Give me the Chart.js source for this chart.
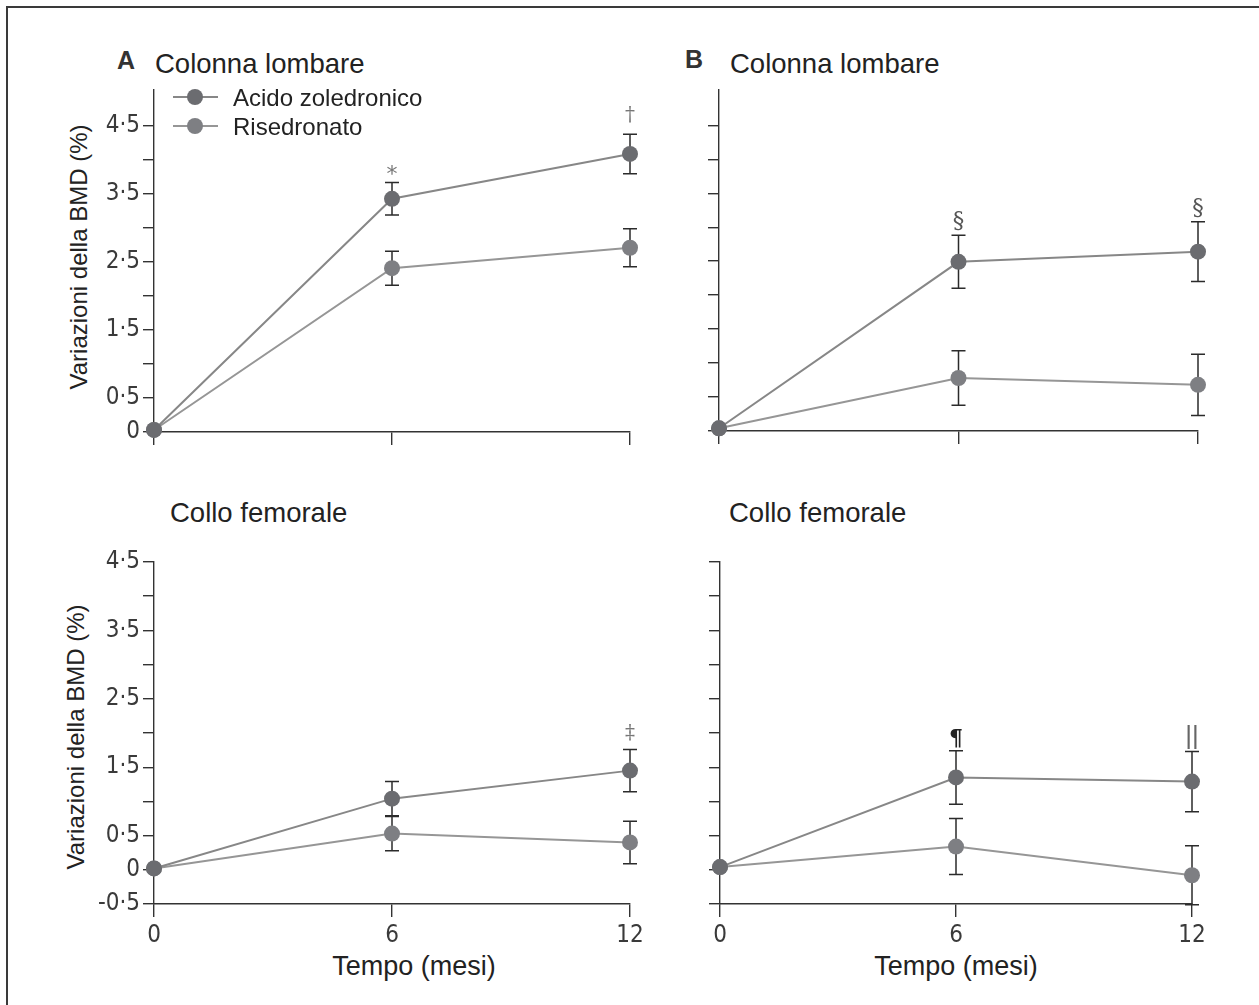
<!DOCTYPE html>
<html>
<head>
<meta charset="utf-8">
<script src="https://cdn.jsdelivr.net/npm/chart.js"></script>
<style>
  html, body { margin: 0; padding: 0; background: #fff; width: 1259px; height: 1005px; overflow: hidden; }
  body { position: relative; font-family: "Liberation Sans", Arial, sans-serif; color: #222; }
  #cornice { position: absolute; left: 6px; top: 6px; width: 1280px; height: 1020px; border: 2px solid #3a3a3a; box-sizing: border-box; }
  canvas { position: absolute; }
  .testo { position: absolute; white-space: nowrap; line-height: 1; }
  .titolo { font-size: 27.5px; }
  .lettera { font-size: 25px; font-weight: bold; color: #333; }
  .asse-y { font-size: 24px; transform: translate(-50%, -50%) rotate(-90deg); }
  .asse-x { font-size: 27px; transform: translateX(-50%); }
</style>
</head>
<body>
<div id="cornice"></div>

<div class="testo lettera" style="left:117px; top:48px;">A</div>
<div class="testo titolo" style="left:155px; top:50px;">Colonna lombare</div>
<div class="testo lettera" style="left:685px; top:47px;">B</div>
<div class="testo titolo" style="left:730px; top:50px;">Colonna lombare</div>
<div class="testo titolo" style="left:170px; top:499px;">Collo femorale</div>
<div class="testo titolo" style="left:729px; top:499px;">Collo femorale</div>

<div class="testo asse-y" style="left:79px; top:257px;">Variazioni della BMD (%)</div>
<div class="testo asse-y" style="left:76px; top:737px;">Variazioni della BMD (%)</div>
<div class="testo asse-x" style="left:414px; top:953px;">Tempo (mesi)</div>
<div class="testo asse-x" style="left:956px; top:953px;">Tempo (mesi)</div>

<canvas id="graficoA" width="590" height="380" style="left:60px; top:80px;"></canvas>
<canvas id="graficoB" width="590" height="380" style="left:625px; top:80px;"></canvas>
<canvas id="graficoC" width="590" height="420" style="left:60px; top:540px;"></canvas>
<canvas id="graficoD" width="590" height="420" style="left:626px; top:540px;"></canvas>

<script>
// dati
const mesi = [0, 6, 12];
const serie = ['Acido zoledronico', 'Risedronato'];
const yTickValori = [-0.5, 0, 0.5, 1, 1.5, 2, 2.5, 3, 3.5, 4, 4.5];
const yTickEtichette = ['-0·5', '0', '0·5', '', '1·5', '', '2·5', '', '3·5', '', '4·5'];
const xTickEtichette = ['0', '6', '12'];

// A - colonna lombare
const zolA = [0.03, 3.43, 4.09];
const errZolA = [0, 0.24, 0.29];
const risA = [0.03, 2.41, 2.71];
const errRisA = [0, 0.25, 0.28];
const segniA = ['', '*', '†'];

// B - colonna lombare
const zolB = [0.04, 2.49, 2.64];
const errZolB = [0, 0.39, 0.44];
const risB = [0.04, 0.78, 0.68];
const errRisB = [0, 0.40, 0.45];
const segniB = ['', '§', '§'];

// A - collo femorale
const zolC = [0.02, 1.04, 1.45];
const errZolC = [0, 0.25, 0.31];
const risC = [0.02, 0.53, 0.40];
const errRisC = [0, 0.25, 0.31];
const segniC = ['', '', '‡'];

// B - collo femorale
const zolD = [0.04, 1.35, 1.29];
const errZolD = [0, 0.39, 0.44];
const risD = [0.04, 0.34, -0.08];
const errRisD = [0, 0.41, 0.43];
const segniD = ['', '¶', '||'];

const stileSegni = {
    '*': { font: '22px "DejaVu Sans"', colore: '#777', gap: 1 },
    '†': { font: '20px "DejaVu Serif"', colore: '#777', gap: 13 },
    '§': { font: '23px "DejaVu Serif"', colore: '#555', gap: 8 },
    '‡': { font: '20px "DejaVu Serif"', colore: '#777', gap: 10 },
    '¶': { font: 'bold 22px "DejaVu Serif"', colore: '#222', gap: 6 },
    '||': { font: '26px "Liberation Sans Narrow", "Liberation Sans"', colore: '#666', gap: 7 },
};

const barreErrore = {
    id: 'barreErrore',
    beforeDatasetsDraw(chart) {
        const { ctx, scales: { x, y } } = chart;
        ctx.save();
        ctx.strokeStyle = '#2b2b2b';
        ctx.lineWidth = 1.5;
        chart.data.datasets.forEach(ds => {
            ds.data.forEach((p, i) => {
                const e = ds.errori[i];
                if (!e) return;
                const px = x.getPixelForValue(p.x);
                const alto = y.getPixelForValue(p.y + e);
                const basso = y.getPixelForValue(p.y - e);
                ctx.beginPath();
                ctx.moveTo(px, alto); ctx.lineTo(px, basso);
                ctx.moveTo(px - 7, alto); ctx.lineTo(px + 7, alto);
                ctx.moveTo(px - 7, basso); ctx.lineTo(px + 7, basso);
                ctx.stroke();
            });
        });
        ctx.restore();
    },
    afterDatasetsDraw(chart, args, opts) {
        const { ctx, chartArea, scales: { x, y } } = chart;
        const ds = chart.data.datasets[0];
        ctx.save();
        ctx.textAlign = 'center';
        ctx.textBaseline = 'alphabetic';
        ds.segni.forEach((s, i) => {
            if (!s) return;
            const st = stileSegni[s];
            const p = ds.data[i];
            ctx.font = st.font;
            ctx.fillStyle = st.colore;
            ctx.fillText(s, x.getPixelForValue(p.x), y.getPixelForValue(p.y + ds.errori[i]) - st.gap);
        });

        if (opts.legenda) {
            chart.data.datasets.forEach((d, i) => {
                const ly = chartArea.top + 7 + i * 29;
                const l = chartArea.left;
                ctx.strokeStyle = d.borderColor;
                ctx.lineWidth = 2;
                ctx.beginPath();
                ctx.moveTo(l + 19, ly); ctx.lineTo(l + 64, ly);
                ctx.stroke();
                ctx.fillStyle = d.pointBackgroundColor;
                ctx.beginPath();
                ctx.arc(l + 41, ly, 8, 0, Math.PI * 2);
                ctx.fill();
                ctx.font = '24px "Liberation Sans", Arial, sans-serif';
                ctx.fillStyle = '#222';
                ctx.textAlign = 'left';
                ctx.fillText(d.label, l + 79, ly + 8.6);
            });
        }
        ctx.restore();
    }
};

function etichettaY(v) {
    const i = yTickValori.indexOf(v);
    return i >= 0 ? yTickEtichette[i] : '';
}

function senzaPadding(s) {
    s.paddingTop = 0;
    s.paddingBottom = 0;
    s.paddingLeft = 0;
    s.paddingRight = 0;
}

function grafico(id, opz) {
    const ctx = document.getElementById(id);
    return new Chart(ctx, {
        type: 'line',
        data: {
            datasets: [
                {
                    label: serie[0],
                    data: mesi.map((m, i) => ({ x: m, y: opz.zol[i] })),
                    errori: opz.errZol,
                    segni: opz.segni,
                    borderColor: '#878787',
                    borderWidth: 2,
                    pointBackgroundColor: '#6b6c70',
                    pointBorderWidth: 0,
                    pointRadius: 8,
                    clip: false,
                },
                {
                    label: serie[1],
                    data: mesi.map((m, i) => ({ x: m, y: opz.ris[i] })),
                    errori: opz.errRis,
                    segni: [],
                    borderColor: '#969696',
                    borderWidth: 2,
                    pointBackgroundColor: '#7e7f83',
                    pointBorderWidth: 0,
                    pointRadius: 8,
                    clip: false,
                },
            ],
        },
        options: {
            responsive: false,
            animation: false,
            events: [],
            layout: { padding: { top: opz.padTop, right: opz.padRight, left: 0, bottom: 0 } },
            plugins: {
                legend: { display: false },
                tooltip: { enabled: false },
                barreErrore: { legenda: opz.legenda },
            },
            scales: {
                x: {
                    type: 'linear',
                    min: 0,
                    max: 12,
                    afterBuildTicks: s => { s.ticks = mesi.map(v => ({ value: v })); },
                    afterFit: s => { s.height = opz.altX; senzaPadding(s); },
                    ticks: {
                        display: opz.etichetteX,
                        autoSkip: false,
                        maxRotation: 0,
                        padding: 4,
                        color: '#3a3a3a',
                        font: { family: '"Liberation Sans Narrow", "DejaVu Sans Condensed", sans-serif', size: 24 },
                        callback: (v, i) => xTickEtichette[i],
                    },
                    grid: { drawOnChartArea: false, drawTicks: true, tickLength: 13, color: '#333', lineWidth: 1.4 },
                    border: { display: true, color: '#333', width: 1.4 },
                },
                y: {
                    min: opz.min,
                    max: opz.max,
                    afterBuildTicks: s => {
                        s.ticks = yTickValori.filter(v => v >= opz.min && v <= 4.5).map(v => ({ value: v }));
                    },
                    afterFit: s => { s.width = 94; senzaPadding(s); },
                    ticks: {
                        autoSkip: false,
                        padding: 3,
                        color: '#3a3a3a',
                        font: { family: '"Liberation Sans Narrow", "DejaVu Sans Condensed", sans-serif', size: 24 },
                        callback: v => opz.etichetteY ? etichettaY(v) : '',
                    },
                    grid: { drawOnChartArea: false, drawTicks: true, tickLength: 11, color: '#333', lineWidth: 1.4 },
                    border: { display: true, color: '#333', width: 1.4 },
                },
            },
        },
        plugins: [barreErrore],
    });
}

grafico('graficoA', {
    zol: zolA, errZol: errZolA, ris: risA, errRis: errRisA, segni: segniA,
    min: 0, max: 5.03, padTop: 10, padRight: 20, altX: 28,
    etichetteX: false, etichetteY: true, legenda: true,
});
grafico('graficoB', {
    zol: zolB, errZol: errZolB, ris: risB, errRis: errRisB, segni: segniB,
    min: 0, max: 5.02, padTop: 10, padRight: 17, altX: 29,
    etichetteX: false, etichetteY: false, legenda: false,
});
grafico('graficoC', {
    zol: zolC, errZol: errZolC, ris: risC, errRis: errRisC, segni: segniC,
    min: -0.5, max: 4.5, padTop: 22, padRight: 20, altX: 56,
    etichetteX: true, etichetteY: true, legenda: false,
});
grafico('graficoD', {
    zol: zolD, errZol: errZolD, ris: risD, errRis: errRisD, segni: segniD,
    min: -0.5, max: 4.5, padTop: 22, padRight: 24, altX: 56,
    etichetteX: true, etichetteY: false, legenda: false,
});
</script>
</body>
</html>
